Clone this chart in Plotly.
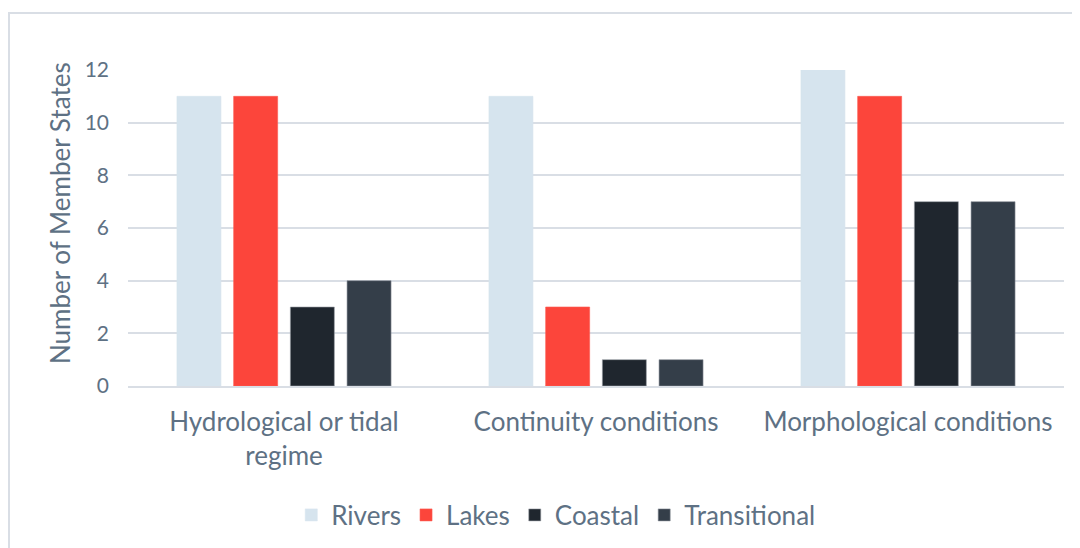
import plotly.graph_objects as go

categories = ["Hydrological or tidal<br>regime", "Continuity conditions", "Morphological conditions"]
series_names = ["Rivers", "Lakes", "Coastal", "Transitional"]
rivers = [11, 11, 12]
lakes = [11, 3, 11]
coastal = [3, 1, 7]
transitional = [4, 1, 7]
y_ticks = [0, 2, 4, 6, 8, 10, 12]
y_title = "Number of Member States"

colors = ["#D6E4EE", "#FC453B", "#1F262E", "#343E49"]
line_colors = ["#D6E4EE", "#FC5A50", "#9AA0A6", "#8A9098"]
text_color = "#5E7184"
font_family = "Lato, Open Sans, sans-serif"

fig = go.Figure()
for name, vals, c, lc in zip(series_names, [rivers, lakes, coastal, transitional], colors, line_colors):
    fig.add_trace(go.Bar(x=categories, y=vals, name=name, marker=dict(color=c, line=dict(color=lc, width=0.6))))

# page has an 8px body margin; figure placed at (8, 8)
OFF = 8
W, H = 1080 - OFF, 548 - OFF
L, T = 128 - OFF, 70 - OFF
R = W - (1064 - OFF)
B = H - (386 - OFF)
pw = W - L - R
ph = H - T - B
bx = (1 - L) / pw
by = 1 + (T - 5) / ph

fig.update_layout(
    width=W, height=H,
    margin=dict(l=L, r=R, t=T, b=B, autoexpand=False),
    paper_bgcolor="white", plot_bgcolor="white",
    barmode="group", bargap=0.273, bargroupgap=0.224,
    font=dict(family=font_family, color=text_color, size=20),
    showlegend=True,
    legend=dict(orientation="h", x=0.457, xanchor="center", y=(386 - 515) / ph, yanchor="middle",
                font=dict(size=26, color=text_color), traceorder="normal", itemwidth=30),
    xaxis=dict(showgrid=False, showline=True, linecolor="#D9DEE5", linewidth=2,
               tickfont=dict(size=26, color=text_color), ticks="", ticklabelstandoff=12),
    yaxis=dict(range=[0, 12], tickvals=y_ticks, showgrid=True, gridcolor="#D9DEE5", gridwidth=2,
               zeroline=False, showline=False, tickfont=dict(size=21, color=text_color),
               ticklabelstandoff=18),
    annotations=[dict(text=y_title, textangle=-90, xref="paper", yref="paper",
                      x=(60 - 128) / pw, y=(386 - 213) / ph, xanchor="center", yanchor="middle",
                      showarrow=False, font=dict(size=26, color=text_color))],
    shapes=[dict(type="path", xref="paper", yref="paper",
                 path=f"M {bx} -1 L {bx} {by} L 1.2 {by}",
                 line=dict(color="#D9DEE5", width=2))],
)

fig.write_html("out.html")
